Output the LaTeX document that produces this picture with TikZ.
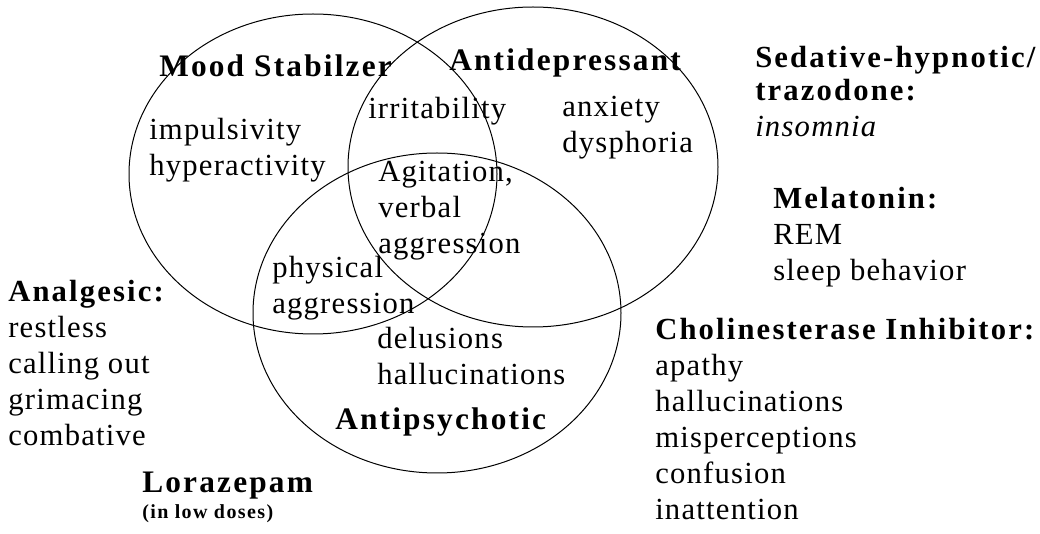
\documentclass[tikz,border=0pt]{standalone}
\usepackage{fontspec}
\setmainfont{Liberation Serif}[LetterSpace=4,BoldFeatures={LetterSpace=7}]
\usetikzlibrary{positioning}
\tikzset{venn/.style={line width=0.75pt}}
\tikzset{lbl/.style={anchor=base west,inner sep=0pt,align=left,font=\fontsize{23}{27}\selectfont}}
\tikzset{head/.style={lbl,font=\fontsize{23.5}{27}\selectfont\bfseries}}

\begin{document}
\begin{tikzpicture}[x=0.75pt,y=-0.75pt]
      \useasboundingbox (0,0) rectangle (1040,534);
      % the three drug classes
      \coordinate (ms) at (313,174);
      \coordinate (ad) at (533,167);
      \coordinate (ap) at (437,313);
      \draw[venn] (ms) ellipse [x radius=184, y radius=160];
      \draw[venn] (ad) ellipse [x radius=185, y radius=160];
      \draw[venn] (ap) ellipse [x radius=184, y radius=160];
      \node[head] (mslabel) at (159,77) {Mood Stabilzer};
      \node[head] (adlabel) at (449,71) {Antidepressant};
      \node[head] (aplabel) at (335,430) {Antipsychotic};
      % symptoms inside (placed by the baseline of the last line)
      \node[lbl] (msitems) at (149,176) {impulsivity\\hyperactivity};
      \node[lbl] (irrit) at (368,119) {irritability};
      \node[lbl] (aditems) at (562,153) {anxiety\\dysphoria};
      \node[lbl] (agit) at (378,254) {Agitation,\\verbal\\aggression};
      \node[lbl] (phys) at (272,314) {physical\\aggression};
      \node[lbl] (delus) at (377,385) {delusions\\hallucinations};
      % other drugs outside
      \node[lbl] (analg) at (8,446) {\textbf{Analgesic:}\\restless\\calling out\\grimacing\\combative};
      \node[head] (loraz) at (142,493) {Lorazepam};
      \node[lbl,font=\fontsize{15}{18}\selectfont\bfseries] (dose) at (142,519) {(in low doses)};
      \node[lbl] (sed) at (755,137) {\textbf{Sedative-hypnotic/}\\[-2pt]\textbf{trazodone:}\\\textit{insomnia}};
      \node[lbl] (melat) at (773,281) {\textbf{Melatonin:}\\REM\\sleep behavior};
      \node[lbl] (chol) at (655,520) {\textbf{Cholinesterase Inhibitor:}\\apathy\\hallucinations\\misperceptions\\confusion\\inattention};
\end{tikzpicture}
\end{document}
